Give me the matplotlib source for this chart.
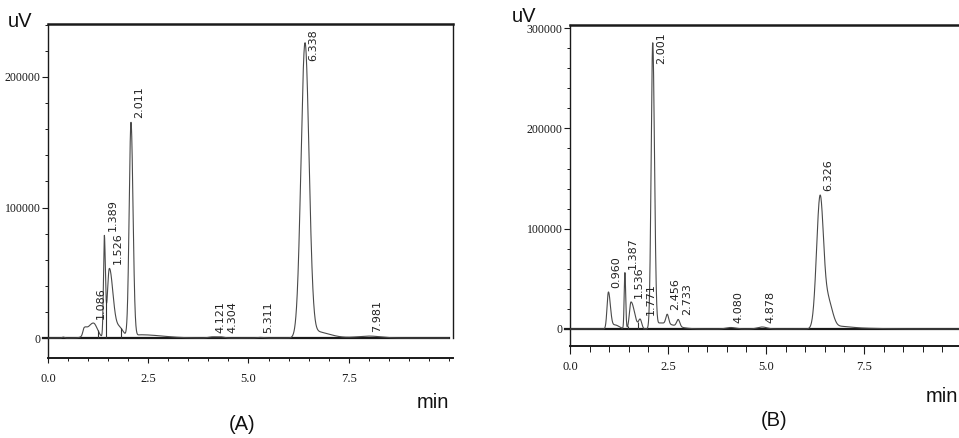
import numpy as np
import matplotlib
matplotlib.use("Agg")
import matplotlib.pyplot as plt
from matplotlib.ticker import FixedLocator, MultipleLocator

# ---------------- Panel A data (peaks) ----------------
a_peak_time   = [0.38, 0.90, 1.13, 1.405, 1.53, 1.78, 2.07, 2.30, 4.11, 4.32, 5.30, 6.41, 6.65, 8.00]
a_peak_height = [700, 5000, 11500, 76000, 53000, 8000, 165000, 2500, 900, 800, 500, 226000, 5000, 1500]
a_sigma_left  = [0.03, 0.03, 0.14, 0.022, 0.05, 0.10, 0.045, 0.10, 0.10, 0.08, 0.08, 0.10, 0.10, 0.30]
a_sigma_right = [0.03, 0.06, 0.10, 0.025, 0.09, 0.10, 0.050, 0.55, 0.10, 0.08, 0.08, 0.10, 0.35, 0.30]
a_peak_label  = ['', '', '1.086', '1.389', '1.526', '', '2.011', '', '4.121', '4.304', '5.311', '6.338', '', '7.981']
a_drop_time   = [1.24, 1.45, 1.81]
a_yticks      = [0, 100000, 200000]

# ---------------- Panel B data ----------------
b_peak_time   = [0.98, 1.15, 1.40, 1.556, 1.79, 2.11, 2.30, 2.48, 2.76, 4.10, 4.90, 6.38, 6.60, 6.80, 7.30]
b_peak_height = [36500, 4000, 56000, 27000, 9000, 285000, 6000, 9500, 7000, 1500, 2000, 133000, 25000, 2500, 800]
b_sigma_left  = [0.035, 0.08, 0.018, 0.04, 0.04, 0.04, 0.08, 0.035, 0.04, 0.12, 0.12, 0.09, 0.08, 0.10, 0.30]
b_sigma_right = [0.05, 0.10, 0.02, 0.09, 0.04, 0.045, 0.35, 0.035, 0.04, 0.12, 0.12, 0.09, 0.10, 0.30, 0.60]
b_peak_label  = ['0.960', '', '1.387', '1.536', '1.771', '2.001', '', '2.456', '2.733', '4.080', '4.878', '6.326', '', '', '']
b_drop_time   = [1.47, 1.73, 1.87]
b_yticks      = [0, 100000, 200000, 300000]

x_major  = [0.0, 2.5, 5.0, 7.5]
x_labels = ['0.0', '2.5', '5.0', '7.5']

W, H = 959, 438
fig = plt.figure(figsize=(W / 100, H / 100), dpi=100)

TICK_FONT = 'Liberation Serif'
SANS = 'Liberation Sans'
LINE = '#4a4a4a'
DARK = '#1a1a1a'


def chromatogram(t, times, heights, sl, sr):
    y = np.zeros_like(t)
    for t0, h, s1, s2 in zip(times, heights, sl, sr):
        s = np.where(t < t0, s1, s2)
        y += h * np.exp(-(t - t0) ** 2 / (2 * s ** 2))
    return y


def pix_axes(left, right, top, bottom):
    return fig.add_axes([left / W, 1 - bottom / H, (right - left) / W, (bottom - top) / H])


def draw_panel(ax, times, heights, sl, sr, labels, drops, yticks, xmax, ylim,
               xpad, xlen, label_gap_top):
    t = np.linspace(0, xmax - 0.1, 5000)
    y = chromatogram(t, times, heights, sl, sr)
    ax.set_xlim(0, xmax)
    ax.set_ylim(*ylim)
    # integration baseline (extends to the left as the zero tick)
    ax.plot([-0.12, xmax - 0.1], [0, 0], color=DARK, lw=1.6, clip_on=False, zorder=2)
    ax.plot(t, y, color=LINE, lw=0.8, zorder=3)
    dv = chromatogram(np.array(drops, float), times, heights, sl, sr)
    ax.vlines(drops, 0, dv, color='#333333', lw=0.8, zorder=3)

    # peak labels (rotated retention times next to each apex)
    fig.canvas.draw()
    px_per_unit = ax.bbox.height / (ylim[1] - ylim[0])
    px_per_min = ax.bbox.width / xmax
    label_len_px = 34
    label_w_px = 11
    placed = []  # (left, right, bottom, top) in axes pixels
    for t0, lab in zip(times, labels):
        if not lab:
            continue
        h = chromatogram(np.array([t0]), times, heights, sl, sr)[0]
        apex_x = t0 * px_per_min
        apex_y = (h - ylim[0]) * px_per_unit
        dx = 3
        clamp = apex_y + 4 + label_len_px > ax.bbox.height - label_gap_top
        bottom = (ax.bbox.height - label_gap_top - label_len_px) if clamp else apex_y + 4
        for (l, r, b, tp) in placed:
            left = apex_x + dx
            yover = min(tp, bottom + label_len_px) - max(b, bottom)
            if yover > 10 and left < r and left + label_w_px > l:
                dx = r + 1 - apex_x
        placed.append((apex_x + dx, apex_x + dx + label_w_px, bottom, bottom + label_len_px))
        if clamp:
            ax.annotate(lab, xy=(t0, 1.0), xycoords=('data', 'axes fraction'),
                        xytext=(dx, -label_gap_top), textcoords='offset pixels',
                        rotation=90, ha='left', va='top', fontsize=8,
                        family='DejaVu Sans', color='#222222')
        else:
            ax.annotate(lab, xy=(t0, h), xytext=(dx, 4), textcoords='offset pixels',
                        rotation=90, ha='left', va='bottom', fontsize=8,
                        family='DejaVu Sans', color='#222222')

    # spines
    for side in ['left', 'right', 'top', 'bottom']:
        ax.spines[side].set_color(DARK)
        ax.spines[side].set_linewidth(1.0)
    ax.spines['top'].set_linewidth(1.8)
    ax.spines['bottom'].set_linewidth(1.4)
    ax.spines['right'].set_bounds(0, ylim[1])

    # ticks
    ax.yaxis.set_major_locator(FixedLocator(yticks))
    ax.set_yticklabels([str(v) for v in yticks])
    ax.yaxis.set_minor_locator(MultipleLocator(20000))
    ax.xaxis.set_major_locator(FixedLocator(x_major))
    ax.set_xticklabels(x_labels)
    ax.xaxis.set_minor_locator(MultipleLocator(0.5))
    ax.tick_params(axis='y', which='major', direction='out', length=4.3, width=0.8,
                   pad=1.0, labelsize=8.5, colors=DARK)
    ax.tick_params(axis='y', which='minor', direction='out', length=2.2, width=0.7, colors=DARK)
    ax.tick_params(axis='x', which='major', direction='out', length=xlen, width=0.8,
                   pad=xpad, labelsize=9, colors=DARK)
    ax.tick_params(axis='x', which='minor', direction='out', length=xlen * 0.7, width=0.7,
                   colors=DARK)
    for lab in ax.get_xticklabels() + ax.get_yticklabels():
        lab.set_family(TICK_FONT)


# ---- Panel A ----
axA = pix_axes(48, 453, 24, 358)
draw_panel(axA, a_peak_time, a_peak_height, a_sigma_left, a_sigma_right, a_peak_label,
           a_drop_time, a_yticks, 10.1, (-15300, 240600), xpad=7.5, xlen=3.5,
           label_gap_top=5)

# ---- Panel B ----
axB = pix_axes(570, 966, 25, 346)
draw_panel(axB, b_peak_time, b_peak_height, b_sigma_left, b_sigma_right, b_peak_label,
           b_drop_time, b_yticks, 10.1, (-16950, 303100), xpad=5.0, xlen=5.8,
           label_gap_top=7)


def ptext(x, y, s, **kw):
    fig.text(x / W, 1 - y / H, s, family=SANS, fontsize=14.5, color='#111111', **kw)


ptext(8, 27, 'uV', ha='left', va='baseline')
ptext(417, 408, 'min', ha='left', va='baseline')
ptext(242, 424, '(A)', ha='center', va='center')
ptext(512, 22, 'uV', ha='left', va='baseline')
ptext(926, 402, 'min', ha='left', va='baseline')
ptext(774, 421, '(B)', ha='center', va='center')

fig.savefig('out.png', dpi=100)
